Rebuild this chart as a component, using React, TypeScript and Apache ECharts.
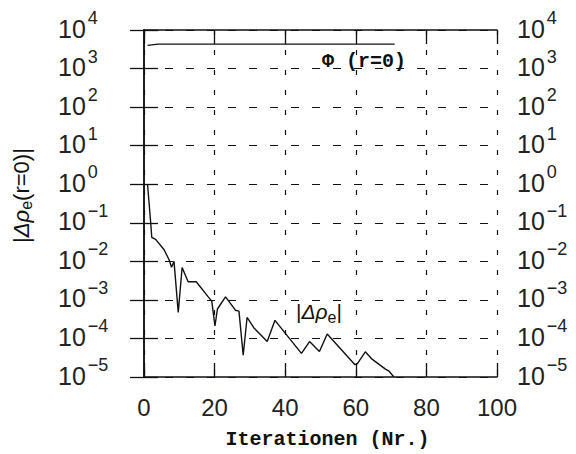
import React, { useEffect, useRef } from "react";
import * as echarts from "echarts";

const xMin = 0;
const xMax = 100;
const xStep = 20;
const yMin = 1e-5;
const yMax = 1e4;

const phiIter = [1, 4, 71];
const phiValues = [4000, 4300, 4300];

const rhoIter = [1, 1.9, 2.2, 3.3, 5.7, 7.1, 7.8, 8.5, 9.7, 10.8, 12.5, 14.8, 18.2, 19.2, 20.1, 20.8, 23.1, 25.9, 26.9, 28.1, 29.2, 31.1, 34.9, 37.1, 44.6, 46.9, 49.7, 51.9, 59.7, 60.4, 62.7, 64.6, 68.4, 69.3, 70.8];
const rhoValues = [1, 1e-1, 4.2e-2, 3.7e-2, 2.0e-2, 1.1e-2, 7e-3, 1.0e-2, 4.7e-4, 6.9e-3, 2.95e-3, 2.95e-3, 1.2e-3, 9.3e-4, 2.1e-4, 5.8e-4, 1.2e-3, 5.4e-4, 5.1e-4, 3.7e-5, 3.5e-4, 1.9e-4, 8.3e-5, 2.95e-4, 4.1e-5, 8.3e-5, 4.6e-5, 1.3e-4, 2.1e-5, 2.2e-5, 4.5e-5, 2.9e-5, 1.6e-5, 1.45e-5, 1e-5];

const phiLabel = "Φ (r=0)";
const xName = "Iterationen (Nr.)";

const INK = "#111";
const SANS = "'Liberation Sans', Arial, sans-serif";
const MONO = "'Liberation Mono', 'Courier New', monospace";

const expFormatter = (v: number) => {
  const e = Math.round(Math.log10(v));
  return `{b|10}{e|${e < 0 ? "\u2212" + -e : e}}`;
};

const expRich = {
  b: { fontSize: 25, fontFamily: SANS, color: "#222", lineHeight: 22, verticalAlign: "bottom" },
  e: { fontSize: 18, fontFamily: SANS, color: "#222", lineHeight: 18, padding: [0, 0, 14, 2], verticalAlign: "bottom" },
};

export default function App() {
  const ref = useRef<HTMLDivElement>(null);
  useEffect(() => {
    if (!ref.current) return;
    const chart = echarts.init(ref.current, undefined, { renderer: "svg" });
    const axisLine = { show: true, lineStyle: { color: INK, width: 1.5 } };
    const axisTick = { show: true, inside: true, length: 14, lineStyle: { color: INK, width: 1.3 } };
    const option: any = {
      animation: false,
      backgroundColor: "#fff",
      grid: { left: 144, right: 79, top: 30, bottom: 77, containLabel: false, outerBoundsMode: "none" },
      xAxis: [
        {
          type: "value", min: xMin, max: xMax, interval: xStep, position: "bottom",
          name: xName, nameLocation: "middle", nameGap: 52,
          nameTextStyle: { fontFamily: MONO, fontSize: 20, fontWeight: "bold", color: INK, padding: [0, 0, 0, 14] },
          axisLine, axisTick,
          axisLabel: { margin: 18, fontFamily: SANS, fontSize: 24, color: "#222" },
          splitLine: { show: true, lineStyle: { type: [5, 15], color: INK, width: 1.2 } },
        },
        {
          type: "value", min: xMin, max: xMax, interval: xStep, position: "top",
          axisLine, axisTick, axisLabel: { show: false }, splitLine: { show: false },
        },
      ],
      yAxis: [
        {
          type: "log", logBase: 10, min: yMin, max: yMax, splitNumber: 9, position: "left",
          name: "{a||}{g|Δρ}{s|e}{a|(r=0)|}", nameLocation: "middle", nameGap: 110,
          nameTextStyle: {
            padding: [0, 0, 0, 16],
            rich: {
              a: { fontFamily: SANS, fontSize: 22, color: INK },
              g: { fontFamily: SANS, fontSize: 22, color: INK, fontStyle: "italic" },
              s: { fontFamily: SANS, fontSize: 16, color: INK, padding: [9, 0, 0, 0] },
            },
          },
          axisLine, axisTick,
          axisLabel: {
            margin: 86, align: "left", verticalAlign: "middle",
            showMinLabel: true, showMaxLabel: true, hideOverlap: false,
            formatter: expFormatter, rich: expRich,
          },
          splitLine: { show: true, lineStyle: { type: [8, 13], color: INK, width: 1.2 } },
        },
        {
          type: "log", logBase: 10, min: yMin, max: yMax, splitNumber: 9, position: "right",
          axisLine, axisTick,
          axisLabel: {
            margin: 20, align: "left", verticalAlign: "middle",
            showMinLabel: true, showMaxLabel: true, hideOverlap: false,
            formatter: expFormatter, rich: expRich,
          },
          splitLine: { show: false },
        },
      ],
      series: [
        {
          type: "line", xAxisIndex: 0, yAxisIndex: 0, symbol: "none",
          data: phiIter.map((x, i) => [x, phiValues[i]]),
          lineStyle: { color: INK, width: 1.4 },
        },
        {
          type: "line", xAxisIndex: 0, yAxisIndex: 0, symbol: "none",
          data: rhoIter.map((x, i) => [x, rhoValues[i]]),
          lineStyle: { color: INK, width: 1.4 },
        },
      ],
      graphic: [
        {
          type: "text", left: 322, top: 51,
          style: { text: phiLabel, font: `bold 20px ${MONO}`, fill: INK },
        },
        {
          type: "text", left: 296, top: 301,
          style: {
            text: "{a||}{g|Δρ}{s|e}{a||}",
            rich: {
              a: { fontFamily: SANS, fontSize: 21, fill: INK },
              g: { fontFamily: SANS, fontSize: 21, fill: INK, fontStyle: "italic" },
              s: { fontFamily: SANS, fontSize: 16, fill: INK, padding: [12, 0, 0, 0] },
            },
          },
        },
      ],
    };
    chart.setOption(option);
    return () => chart.dispose();
  }, []);
  return <div ref={ref} style={{ position: "fixed", left: 0, top: 0, width: 576, height: 454 }} />;
}
